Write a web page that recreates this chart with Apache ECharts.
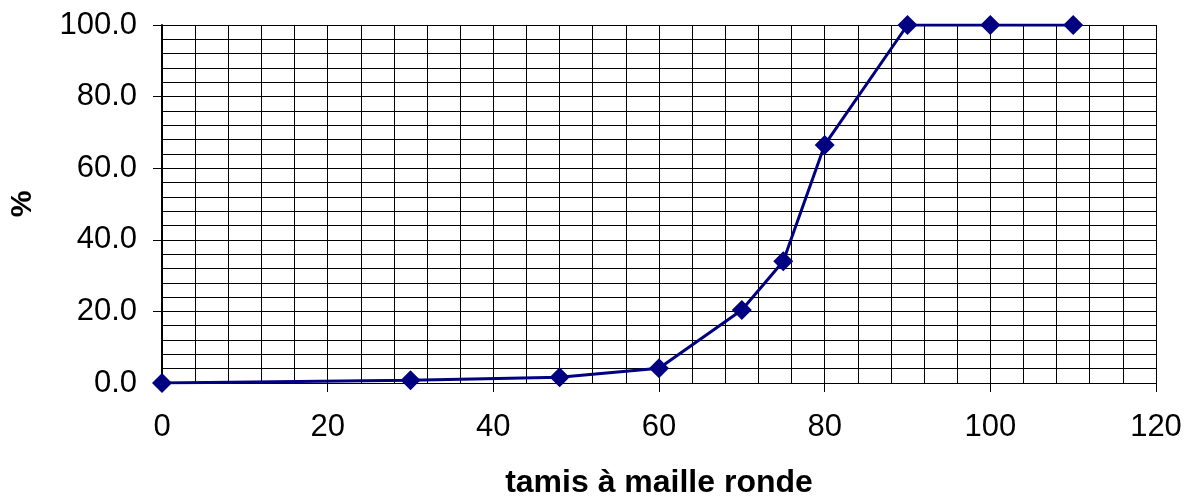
<!DOCTYPE html>
<html>
<head>
<meta charset="utf-8">
<script src="https://cdn.jsdelivr.net/npm/echarts@6/dist/echarts.min.js"></script>
<style>
  html, body { margin: 0; padding: 0; background: #fff; }
  #chart { width: 1189px; height: 502px; }
</style>
</head>
<body>
<div id="chart"></div>
<script>
var dom = document.getElementById('chart');
var myChart = echarts.init(dom, null, { renderer: 'canvas' });

// ouverture des tamis et % passant
let tamis = [0, 30, 48, 60, 70, 75, 80, 90, 100, 110];
let passant = [0, 0.8, 1.6, 4.1, 20.4, 34.0, 66.5, 100.0, 100.0, 100.0];

let fontName = 'Liberation Sans';

var option = {
    backgroundColor: '#fff',
    animation: false,
    grid: {
        left: 162,
        right: 33,
        top: 25,
        bottom: 119,
        outerBoundsMode: 'none'
    },
    xAxis: [
        {   // grille fine
            type: 'value', min: 0, max: 120, interval: 4,
            axisLine: { show: true, onZero: false, lineStyle: { color: '#000', width: 1 } },
            axisTick: { show: false },
            axisLabel: { show: false },
            splitLine: { show: true, lineStyle: { color: '#000', width: 1 } }
        },
        {   // graduations principales
            type: 'value', min: 0, max: 120, interval: 20, position: 'bottom',
            name: 'tamis à maille ronde',
            nameLocation: 'middle',
            nameGap: 84,
            nameTextStyle: { fontFamily: fontName, fontSize: 32, fontWeight: 'bold', color: '#000' },
            axisLine: { show: false, onZero: false },
            axisTick: { show: true, length: 9, lineStyle: { color: '#000' } },
            axisLabel: { margin: 29, fontFamily: fontName, fontSize: 31, color: '#000' },
            splitLine: { show: false }
        }
    ],
    yAxis: [
        {
            type: 'value', min: 0, max: 100, interval: 4,
            axisLine: { show: true, onZero: false, lineStyle: { color: '#000', width: 2 } },
            axisTick: { show: false },
            axisLabel: { show: false },
            splitLine: { show: true, lineStyle: { color: '#000', width: 1 } }
        },
        {
            type: 'value', min: 0, max: 100, interval: 20, position: 'left',
            name: '%',
            nameLocation: 'middle',
            nameGap: 124,
            nameRotate: 90,
            nameTextStyle: { fontFamily: fontName, fontSize: 30, fontWeight: 'bold', color: '#000' },
            axisLine: { show: false, onZero: false },
            axisTick: { show: true, length: 9, lineStyle: { color: '#000' } },
            axisLabel: {
                margin: 25, fontFamily: fontName, fontSize: 31, color: '#000',
                formatter: function (v) { return v.toFixed(1); }
            },
            splitLine: { show: false }
        }
    ],
    series: [
        {
            type: 'line',
            xAxisIndex: 0,
            yAxisIndex: 0,
            data: tamis.map(function (t, i) { return [t, passant[i]]; }),
            symbol: 'diamond',
            symbolSize: 20,
            itemStyle: { color: '#000080' },
            lineStyle: { color: '#000080', width: 3 }
        }
    ]
};

myChart.setOption(option);
window.addEventListener('resize', myChart.resize);
</script>
</body>
</html>
